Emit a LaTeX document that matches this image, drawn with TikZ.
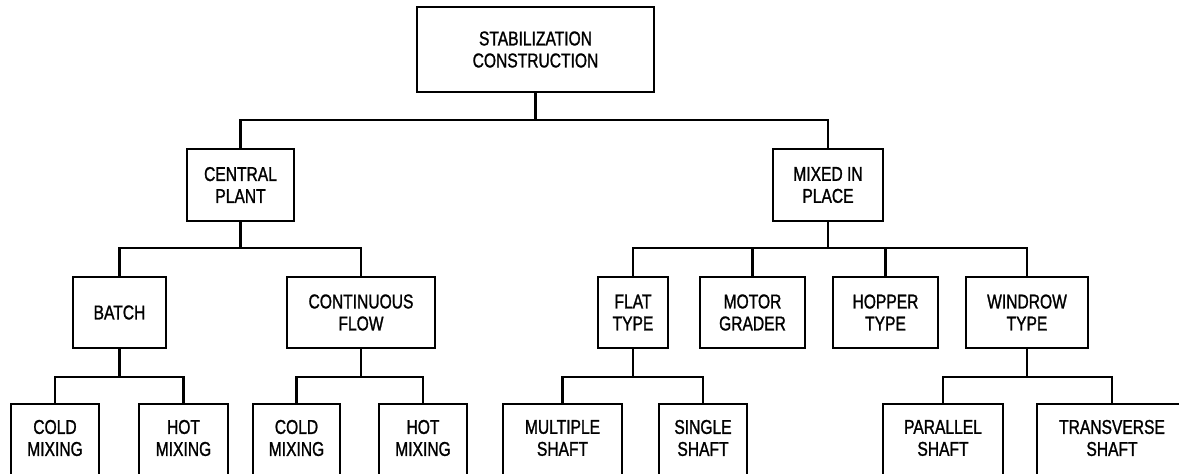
\documentclass[tikz,border=0pt]{standalone}
\usepackage{fontspec}
\setmainfont{Liberation Sans}[FakeStretch=0.78,FakeBold=1.2]
\begin{document}
\begin{tikzpicture}[x=1pt,y=-1pt,
  box/.style={draw, line width=1.5pt, align=center, inner sep=0pt, font=\fontsize{20}{22}\selectfont},
  openbox/.style={align=center, inner sep=0pt, minimum height=68pt, font=\fontsize{20}{22}\selectfont},
  boxline/.style={line width=1.5pt},
  conn/.style={line width=2.8pt}]
\useasboundingbox (0,0) rectangle (1179,474);
\clip (0,0) rectangle (1179,474);
\fill[white] (0,0) rectangle (1179,474);
% level 1
\node[box, minimum width=237pt, minimum height=85pt] (top) at (535.5,49.5) {STABILIZATION\\CONSTRUCTION};
% level 2
\node[box, minimum width=107pt, minimum height=72pt] (cp) at (240.5,185) {CENTRAL\\PLANT};
\node[box, minimum width=110pt, minimum height=72pt] (mip) at (828,185) {MIXED IN\\PLACE};
% level 3
\node[box, minimum width=93pt, minimum height=71pt] (batch) at (119.5,312.5) {BATCH};
\node[box, minimum width=148pt, minimum height=71pt] (cf) at (361,312.5) {CONTINUOUS\\FLOW};
\node[box, minimum width=70pt, minimum height=71pt] (flat) at (633,312.5) {FLAT\\TYPE};
\node[box, minimum width=105pt, minimum height=71pt] (motor) at (752.5,312.5) {MOTOR\\GRADER};
\node[box, minimum width=105pt, minimum height=71pt] (hopper) at (885.5,312.5) {HOPPER\\TYPE};
\node[box, minimum width=122pt, minimum height=71pt] (windrow) at (1027,312.5) {WINDROW\\TYPE};
% level 4 (open at bottom)
\node[openbox, minimum width=88pt] (cold1) at (55,438) {COLD\\MIXING};
\node[openbox, minimum width=89pt] (hot1) at (183.5,438) {HOT\\MIXING};
\node[openbox, minimum width=87pt] (cold2) at (296.5,438) {COLD\\MIXING};
\node[openbox, minimum width=88pt] (hot2) at (423,438) {HOT\\MIXING};
\node[openbox, minimum width=119pt] (mult) at (562.5,438) {MULTIPLE\\SHAFT};
\node[openbox, minimum width=88pt] (single) at (703,438) {SINGLE\\SHAFT};
\node[openbox, minimum width=120pt] (par) at (943,438) {PARALLEL\\SHAFT};
\node[openbox, minimum width=150pt] (trans) at (1112,438) {TRANSVERSE\\SHAFT};
\foreach \n in {cold1,hot1,cold2,hot2,mult,single,par,trans}{
  \draw[boxline] ([yshift=-100pt]\n.north west) -- (\n.north west) -- (\n.north east) -- ([yshift=-100pt]\n.north east);
}
% bus levels
\coordinate (b1) at (0,120);
\coordinate (b2) at (0,248);
\coordinate (b3) at (0,377);
% connectors
\draw[conn] (top.south) -- (top.south |- b1);
\draw[conn] (cp.north) |- (mip.north |- b1) -- (mip.north);
\draw[conn] (cp.south) -- (cp.south |- b2);
\draw[conn] (batch.north) |- (cf.north |- b2) -- (cf.north);
\draw[conn] (mip.south) -- (mip.south |- b2);
\draw[conn] (flat.north) |- (windrow.north |- b2) -- (windrow.north);
\draw[conn] (motor.north) -- (motor.north |- b2);
\draw[conn] (hopper.north) -- (hopper.north |- b2);
\draw[conn] (batch.south) -- (batch.south |- b3);
\draw[conn] (cold1.north) |- (hot1.north |- b3) -- (hot1.north);
\draw[conn] (cf.south) -- (cf.south |- b3);
\draw[conn] (cold2.north) |- (hot2.north |- b3) -- (hot2.north);
\draw[conn] (flat.south) -- (flat.south |- b3);
\draw[conn] (mult.north) |- (single.north |- b3) -- (single.north);
\draw[conn] (windrow.south) -- (windrow.south |- b3);
\draw[conn] (par.north) |- (trans.north |- b3) -- (trans.north);
\end{tikzpicture}
\end{document}
